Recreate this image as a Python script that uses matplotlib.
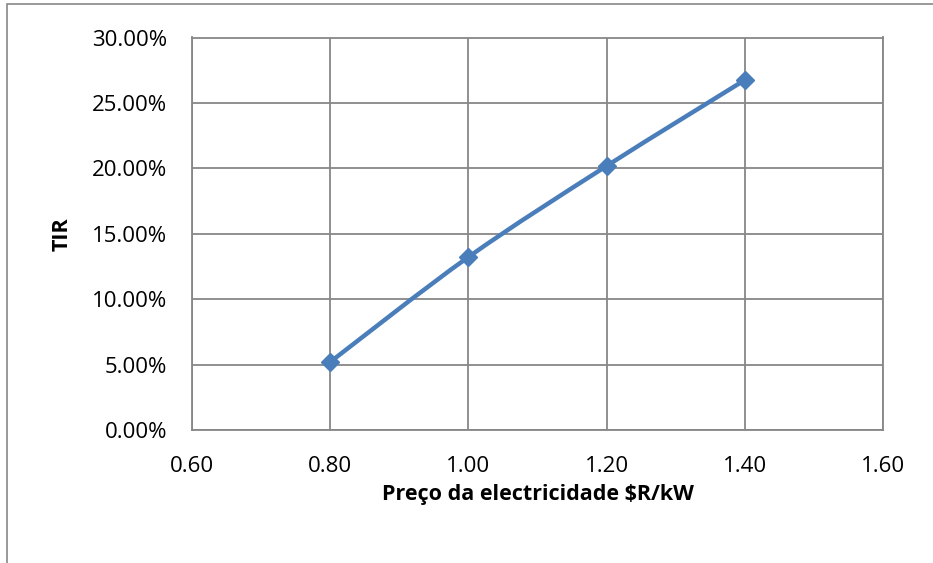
import matplotlib
matplotlib.use("Agg")
import matplotlib.pyplot as plt
from matplotlib.path import Path
from matplotlib.patches import PathPatch, Rectangle
from matplotlib.ticker import FuncFormatter

# data
preco = [0.80, 1.00, 1.20, 1.40]
tir = [0.052, 0.1322, 0.2018, 0.2675]

xticks = [0.60, 0.80, 1.00, 1.20, 1.40, 1.60]
yticks = [0.00, 0.05, 0.10, 0.15, 0.20, 0.25, 0.30]

plt.rcParams['font.family'] = ['Open Sans', 'DejaVu Sans']
blue = '#4A7EBB'
grey = '#878787'


def smooth_path(xs, ys, t=1.0 / 6):
    # Excel-like smoothed line as cubic bezier segments
    verts = [(xs[0], ys[0])]
    codes = [Path.MOVETO]
    n = len(xs)
    for i in range(n - 1):
        x0, y0 = (xs[i - 1], ys[i - 1]) if i > 0 else (xs[i], ys[i])
        x1, y1 = xs[i], ys[i]
        x2, y2 = xs[i + 1], ys[i + 1]
        x3, y3 = (xs[i + 2], ys[i + 2]) if i + 2 < n else (x2, y2)
        c1 = (x1 + (x2 - x0) * t, y1 + (y2 - y0) * t)
        c2 = (x2 - (x3 - x1) * t, y2 - (y3 - y1) * t)
        verts += [c1, c2, (x2, y2)]
        codes += [Path.CURVE4] * 3
    return Path(verts, codes)


fig = plt.figure(figsize=(9.33, 5.63), dpi=100)
fig.patches.append(Rectangle((7 / 933, -0.01), 1.0, 1.0 - 4 / 563 + 0.01,
                             transform=fig.transFigure, fill=False,
                             edgecolor=grey, linewidth=1.2))

ax = fig.add_axes([192 / 933, 133 / 563, 691 / 933, 392.5 / 563])
ax.add_patch(PathPatch(smooth_path(preco, tir), fill=False, edgecolor=blue,
                       linewidth=3.2, capstyle='round', zorder=3))
ax.plot(preco, tir, linestyle='none', marker='D', markersize=9,
        color=blue, zorder=4)

ax.set_xlim(0.6, 1.6)
ax.set_ylim(0, 0.30)
ax.set_xticks(xticks)
ax.set_yticks(yticks)
ax.xaxis.set_major_formatter(FuncFormatter(lambda v, p: f"{v:.2f}"))
ax.yaxis.set_major_formatter(FuncFormatter(lambda v, p: f"{v * 100:.2f}%"))
ax.tick_params(length=0, labelsize=16, colors='black')
ax.tick_params(axis='x', pad=19)
ax.tick_params(axis='y', pad=18)
ax.grid(True, color=grey, linewidth=1.3)
ax.set_axisbelow(True)
for s in ax.spines.values():
    s.set_color(grey)
    s.set_linewidth(1.3)

ax.set_xlabel('Preço da electricidade $R/kW', fontsize=15.5, fontweight='bold',
              labelpad=5)
ax.set_ylabel('TIR', fontsize=15.5, fontweight='bold', labelpad=14)

fig.savefig('out.png', dpi=100)
